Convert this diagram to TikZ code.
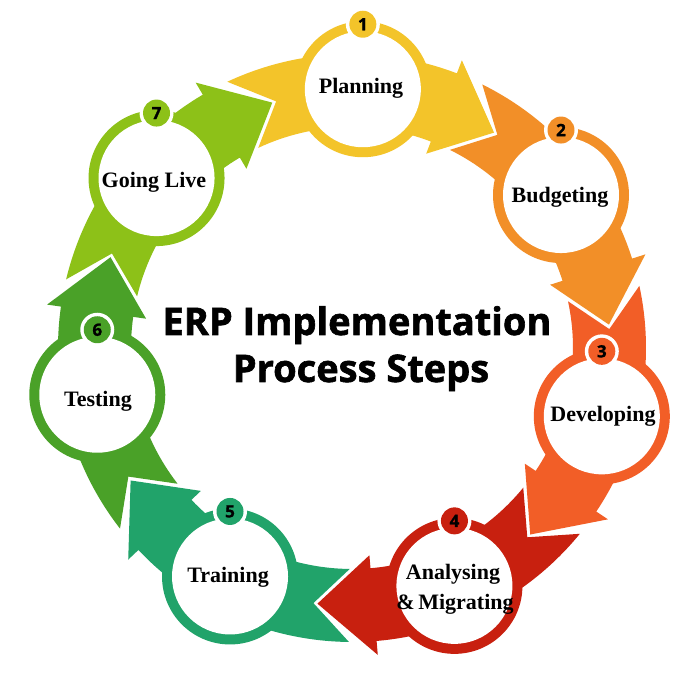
\documentclass[tikz,border=0pt]{standalone}
\usepackage{fontspec}
\setmainfont{Liberation Serif}
\newfontfamily\erptitle[FakeBold=1.6]{Open Sans}
\newfontfamily\erpnum[FakeBold=1.2]{Open Sans}
\definecolor{cA}{HTML}{F3C42A}
\definecolor{cB}{HTML}{F28F28}
\definecolor{cC}{HTML}{F25E27}
\definecolor{cD}{HTML}{C8200F}
\definecolor{cE}{HTML}{21A36A}
\definecolor{cF}{HTML}{4AA128}
\definecolor{cG}{HTML}{8DC118}
\begin{document}
\begin{tikzpicture}[x=1pt,y=1pt,
  lbl/.style={font=\bfseries\fontsize{22}{25}\selectfont, anchor=base, inner sep=0pt},
  numtxt/.style={font=\erpnum\bfseries\fontsize{17}{17}\selectfont},
  ttl/.style={font=\erptitle\bfseries\fontsize{38}{47}\selectfont, anchor=base, inner sep=0pt}]
\useasboundingbox (0,0) rectangle (688,682);
\fill[white] (0,0) rectangle (688,682);
\begin{scope}[shift={(352pt,334pt)}]
\foreach \a/\c in {87.6/cA, 36.2/cB, -15.3/cC, -66.7/cD, -118.1/cE, -169.6/cF, 139/cG}{
  \fill[\c] ({\a+27.5}:294pt) -- ({\a+19.5}:258pt) -- ({\a+27.5}:221pt)
    arc[start angle={\a+27.5}, end angle={\a-18.5}, radius=221pt]
    -- ({\a-18.5}:208pt) -- ({\a-31}:258pt) -- ({\a-18.5}:308pt) -- ({\a-18.5}:294pt)
    arc[start angle={\a-18.5}, end angle={\a+27.5}, radius=294pt] -- cycle;
}
\foreach \a/\c/\n in {87.6/cA/1, 36.2/cB/2, -15.3/cC/3, -66.7/cD/4, -118.1/cE/5, -169.6/cF/6, 139/cG/7}{
  \node[circle, fill=\c, minimum size=136pt, inner sep=0pt] (ring\n) at (\a:259pt) {};
  \node[circle, fill=white, minimum size=116pt, inner sep=0pt] (in\n) at (ring\n.center) {};
  \node[circle, fill=white, minimum size=34pt, inner sep=0pt] (bw\n) at ([yshift=65pt]ring\n.center) {};
  \node[circle, fill=\c, minimum size=27pt, inner sep=0pt, numtxt] (badge\n) at (bw\n.center) {\n};
}
\end{scope}
\node[lbl] (l1) at (361,588) {Planning};
\node[lbl] (l2) at (560,479) {Budgeting};
\node[lbl] (l3) at (603,260) {Developing};
\node[lbl] (l4a) at (453,102) {Analysing};
\node[lbl] (l4b) at (455,72) {\&\,Migrating};
\node[lbl] (l5) at (228,99) {Training};
\node[lbl] (l6) at (98,275) {Testing};
\node[lbl] (l7) at (154,494) {Going Live};
\node[ttl] (t1) at (357,347) {ERP Implementation};
\node[ttl] (t2) at (361,300) {Process Steps};
\end{tikzpicture}
\end{document}
